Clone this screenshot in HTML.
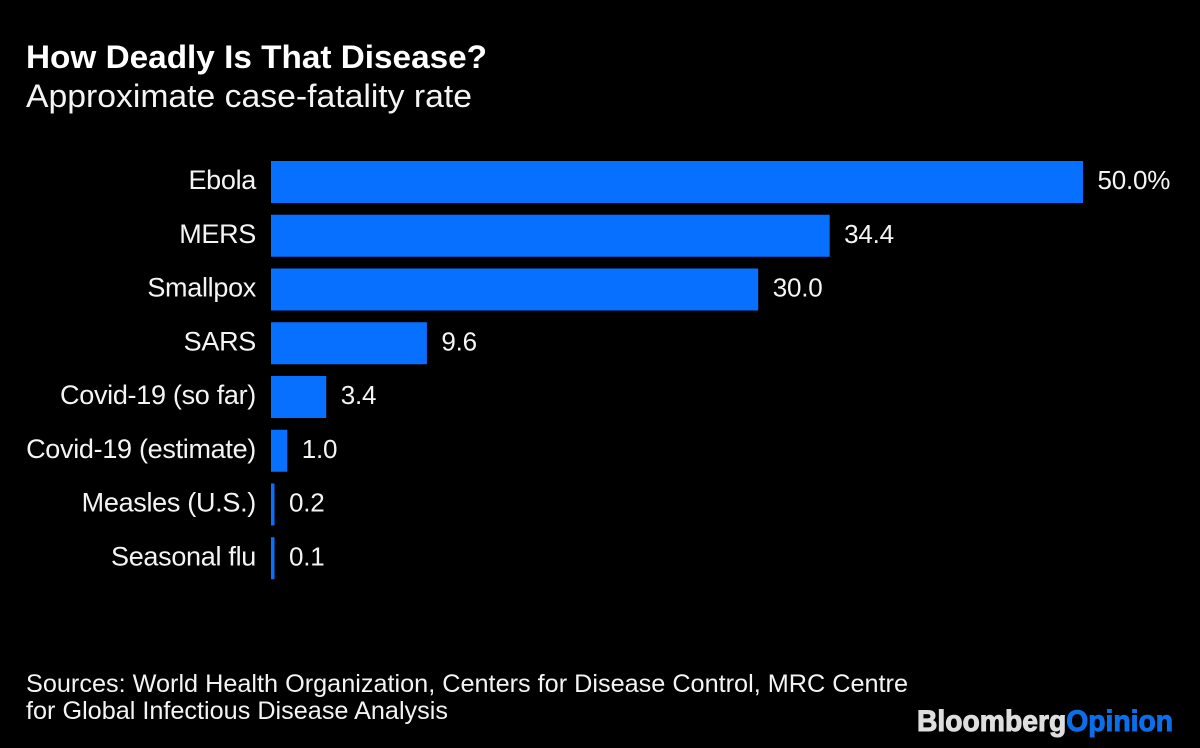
<!DOCTYPE html>
<html lang="en">
<head>
<meta charset="utf-8">
<title>How Deadly Is That Disease?</title>
<style>
html,body{margin:0;padding:0;background:#000;}
body{width:1200px;height:748px;overflow:hidden;}
svg{display:block;}
text{font-family:"Liberation Sans",sans-serif;fill:#f4f4f4;}
</style>
</head>
<body>
<svg id="chart" width="1200" height="748" viewBox="0 0 1200 748" xmlns="http://www.w3.org/2000/svg">
<rect width="1200" height="748" fill="#000"/>
<text x="26" y="68" font-size="32" font-weight="700" textLength="461" lengthAdjust="spacingAndGlyphs" style="fill:#fff">How Deadly Is That Disease?</text>
<text x="26" y="107" font-size="32" textLength="446" lengthAdjust="spacingAndGlyphs">Approximate case-fatality rate</text>
<g id="bars"></g>
<text x="26" y="692" font-size="25" textLength="882" lengthAdjust="spacingAndGlyphs">Sources: World Health Organization, Centers for Disease Control, MRC Centre</text>
<text x="26" y="719" font-size="25" textLength="422" lengthAdjust="spacingAndGlyphs">for Global Infectious Disease Analysis</text>
<text x="917" y="731" font-size="30" font-weight="700" textLength="256" lengthAdjust="spacingAndGlyphs" stroke-width="1"><tspan style="fill:#dedede" stroke="#dedede">Bloomberg</tspan><tspan style="fill:#0a6fe8" stroke="#0a6fe8">Opinion</tspan></text>
</svg>
<script>
const categories = ["Ebola", "MERS", "Smallpox", "SARS", "Covid-19 (so far)", "Covid-19 (estimate)", "Measles (U.S.)", "Seasonal flu"];
const values = [50.0, 34.4, 30.0, 9.6, 3.4, 1.0, 0.2, 0.1];
const valueLabels = ["50.0%", "34.4", "30.0", "9.6", "3.4", "1.0", "0.2", "0.1"];

const X0 = 271, XMAX_PX = 1083, XMAX_VAL = 50;
const Y0 = 161, STEP = 53.75, BAR_H = 42;
const MIN_W = 3.5;
function xScale(v) { return (v / XMAX_VAL) * (XMAX_PX - X0); }
function yScale(i) { return Y0 + i * STEP; }

const NS = "http://www.w3.org/2000/svg";
const group = document.getElementById("bars");
categories.forEach(function (cat, i) {
  const y = yScale(i);
  const w = Math.max(MIN_W, xScale(values[i]));

  const label = document.createElementNS(NS, "text");
  
  
  label.setAttribute("x", 256);
  label.setAttribute("y", y + 28);
  label.setAttribute("font-size", "27");
  label.setAttribute("letter-spacing", "-0.3");
  label.setAttribute("text-anchor", "end");
  label.textContent = cat;
  group.appendChild(label);

  const bar = document.createElementNS(NS, "rect");
  
  
  bar.setAttribute("x", X0);
  bar.setAttribute("y", y);
  bar.setAttribute("width", w);
  bar.setAttribute("height", BAR_H);
  bar.setAttribute("fill", "#0870ff");
  group.appendChild(bar);

  const val = document.createElementNS(NS, "text");
  
  
  val.setAttribute("x", X0 + w + 14.5);
  val.setAttribute("y", y + 28);
  val.setAttribute("font-size", "26");
  val.setAttribute("letter-spacing", "-0.2");
  val.textContent = valueLabels[i];
  group.appendChild(val);
});
</script>
</body>
</html>
